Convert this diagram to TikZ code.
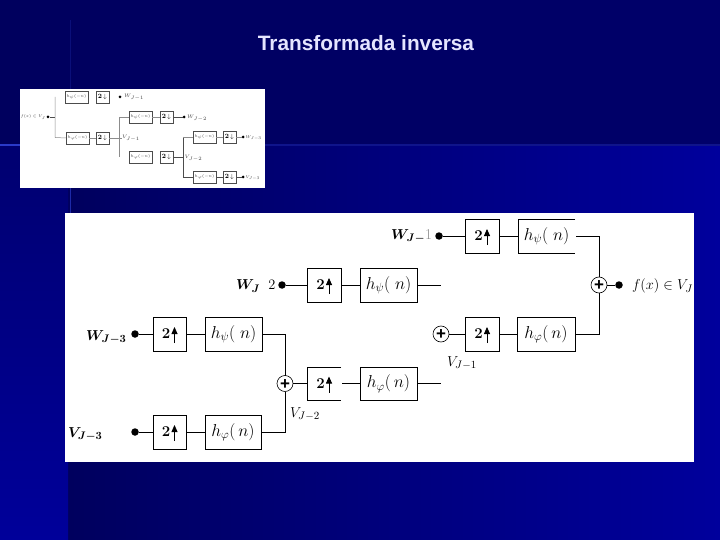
\documentclass[tikz,border=0pt]{standalone}
\usepackage{amsmath}
\usepackage{graphicx}
\usepackage{fontspec}
\setsansfont{Liberation Sans}
\usetikzlibrary{arrows.meta}
\definecolor{bgtop}{HTML}{00005E}
\definecolor{bgtopr}{HTML}{00006A}
\definecolor{bgdark}{HTML}{00005E}
\definecolor{bgstripa}{HTML}{000070}
\definecolor{bgstripb}{HTML}{00009A}
\definecolor{bgbright}{HTML}{00009C}
\definecolor{glow}{HTML}{2A3AC8}
\tikzset{
  x=1pt,y=-1pt,
  every node/.style={inner sep=0pt,outer sep=0pt},
  bigbox/.style={draw=black,line width=0.7pt,fill=white,anchor=north west,font=\fontsize{17}{17}\selectfont},
  openbox/.style={fill=white,anchor=north west,font=\fontsize{17}{17}\selectfont},
  wire/.style={draw=black,line width=0.7pt},
  bigdot/.style={circle,fill=black,minimum size=7.5pt},
  adder/.style={circle,draw=black,line width=0.6pt,fill=white,minimum size=16pt,font=\sffamily\bfseries\fontsize{17}{17}\selectfont},
  lab/.style={font=\fontsize{15}{15}\selectfont,text=black},
  upar/.style={line width=0.8pt,-{Triangle[length=7pt,width=6pt]}},
  smallbox/.style={draw=black!70,line width=0.5pt,fill=white,anchor=north west,font=\fontsize{6.5}{6.5}\selectfont},
  smallwire/.style={draw=black!45,line width=0.5pt},
  darkwire/.style={draw=black!70,line width=0.5pt},
  smalldot/.style={circle,fill=black,minimum size=3pt},
  smalllab/.style={font=\fontsize{5.5}{5.5}\selectfont,text=black!75},
}
\newcommand{\twotxt}{\hspace*{-7pt}{\fontsize{15}{15}\selectfont\textbf{2}}}
\newcommand{\plustxt}{\raisebox{-5.6pt}[0pt][0pt]{\makebox[0pt]{+}}}
\newcommand{\smtxt}[1]{\scalebox{0.8}{$#1$}}
\begin{document}
\begin{tikzpicture}
\useasboundingbox (0,0) rectangle (720,540);
% background
\shade[left color=bgtop,right color=bgtopr] (0,0) rectangle (720,145);
\shade[left color=bgdark,right color=bgbright] (68,145) rectangle (720,540);
\shade[top color=bgstripa,bottom color=bgstripb] (0,145) rectangle (68,540);
\fill[glow] (0,144.5) rectangle (20,146.5);
\fill[glow!35!bgtopr] (265,144.5) rectangle (720,146);
\fill[glow!25!bgtop] (69.5,20) rectangle (71,89);
\fill[glow!70!bgdark] (69.5,188) rectangle (71,213);
\node[text=white!90!blue,font=\sffamily\bfseries\fontsize{20.8}{21}\selectfont] (title) at (366,43) {Transformada inversa};
% panels
\fill[white] (20,89) rectangle (265,188);
\fill[white] (65,213) rectangle (694,462);

% ---- small diagram
\node[smalllab,anchor=east] (sf) at (45.5,117) {\smtxt{f(x)\in V_J}};
\node[smalldot] (sd) at (48,117) {};
\coordinate (sj1) at (55,117);
\coordinate (sj1t) at (55,97);
\coordinate (sj1b) at (55,137.5);
\node[smallbox,minimum width=23pt,minimum height=12pt] (sh1) at (65,91) {};
\node[smalllab] at (sh1.center) {\smtxt{h_\psi(-n)}};
\node[smallbox,minimum width=13pt,minimum height=12pt] (st1) at (96,91) {\textbf{2}\,$\downarrow$};
\node[smalldot] (so1) at (120,97) {};
\node[smalllab,anchor=west] (sl1) at (124,97) {$W_{J-1}$};
\node[smallbox,minimum width=23pt,minimum height=12pt] (sh2) at (66,132) {};
\node[smalllab] at (sh2.center) {\smtxt{h_\varphi(-n)}};
\node[smallbox,minimum width=13pt,minimum height=12pt] (st2) at (96,132) {\textbf{2}\,$\downarrow$};
\node[smalllab,anchor=west] (sl2) at (122,138) {$V_{J-1}$};
\coordinate (sj2) at (119,138);
\coordinate (sj2t) at (119,117);
\coordinate (sj2b) at (119,157);
\node[smallbox,minimum width=23pt,minimum height=12pt] (sh3) at (129,111) {};
\node[smalllab] at (sh3.center) {\smtxt{h_\psi(-n)}};
\node[smallbox,minimum width=13pt,minimum height=12pt] (st3) at (160,111) {\textbf{2}\,$\downarrow$};
\node[smalldot] (so3) at (184,117) {};
\node[smalllab,anchor=west] (sl3) at (187,118) {$W_{J-2}$};
\node[smallbox,minimum width=23pt,minimum height=12pt] (sh4) at (129,151) {};
\node[smalllab] at (sh4.center) {\smtxt{h_\varphi(-n)}};
\node[smallbox,minimum width=13pt,minimum height=12pt] (st4) at (160,151) {\textbf{2}\,$\downarrow$};
\node[smalllab,anchor=west] (sl4) at (184.5,158) {$V_{J-2}$};
\coordinate (sj3) at (183,157);
\coordinate (sj3t) at (183,137);
\coordinate (sj3b) at (183,177);
\node[smallbox,minimum width=23pt,minimum height=12pt] (sh5) at (193,131) {};
\node[smalllab] at (sh5.center) {\smtxt{h_\psi(-n)}};
\node[smallbox,minimum width=13pt,minimum height=12pt] (st5) at (223,131) {\textbf{2}\,$\downarrow$};
\node[smalldot] (so5) at (243,137) {};
\node[smalllab,anchor=west] (sl5) at (245.5,138) {\smtxt{W_{J-3}}};
\node[smallbox,minimum width=23pt,minimum height=12pt] (sh6) at (193,171) {};
\node[smalllab] at (sh6.center) {\smtxt{h_\varphi(-n)}};
\node[smallbox,minimum width=13pt,minimum height=12pt] (st6) at (223,171) {\textbf{2}\,$\downarrow$};
\node[smalldot] (so6) at (243,177) {};
\node[smalllab,anchor=west] (sl6) at (245.5,178) {\smtxt{V_{J-3}}};
\draw[darkwire] (sd) -- (sj1);
\draw[smallwire] (sj1t) -- (sj1b) -- (sh2.west);
\draw[smallwire] (sh2) -- (st2);
\draw[smallwire] (st2.east) -- (sl2.west);
\draw[smallwire] (sj2t) -- (sj2b);
\draw[smallwire] (sj2t) -- (sh3.west);
\draw[smallwire] (sh3) -- (st3);
\draw[darkwire] (st3) -- (so3);
\draw[darkwire] (st4.east) -- (sj3);
\draw[darkwire] (sj3t) -- (sj3b);
\draw[smallwire] (sj3t) -- (sh5.west);
\draw[darkwire] (sj3b) -- (sh6.west);
\draw[smallwire] (sh5) -- (st5);
\draw[darkwire] (sh6) -- (st6);
\draw[smallwire] (st5) -- (so5);
\draw[darkwire] (st6) -- (so6);

% ---- large diagram
\node[lab,anchor=west] (lw1) at (391,236) {$\boldsymbol{W_{J-}}$\textcolor{black!45}{1}};
\node[bigdot] (dw1) at (439,236) {};
\node[bigbox,minimum width=34pt,minimum height=34pt] (a1) at (465,219) {\twotxt};
\node[openbox,minimum width=57pt,minimum height=34pt] (b1) at (518,219) {$h_\psi(\;n)$};
\draw[wire] (b1.north east) -- (b1.north west) -- (b1.south west) -- (b1.south east);
\coordinate (c1) at (599,236);
\node[lab,anchor=west] (lw2) at (236,286) {$\boldsymbol{W_{J}}\;\;2$};
\node[bigdot] (dw2) at (282,285) {};
\node[bigbox,minimum width=34pt,minimum height=34pt] (a2) at (307,268) {\twotxt};
\node[bigbox,minimum width=57pt,minimum height=34pt] (b2) at (360,268) {$h_\psi(\;n)$};
\coordinate (e2) at (441,285);
\node[lab,anchor=west] (lw3) at (86,337) {$\boldsymbol{W_{J-3}}$};
\node[bigdot] (dw3) at (135,334) {};
\node[bigbox,minimum width=33pt,minimum height=34pt] (a3) at (153,317) {\twotxt};
\node[bigbox,minimum width=57pt,minimum height=34pt] (b3) at (205,317) {$h_\psi(\;n)$};
\node[lab,anchor=west] (lv3) at (68,434) {$\boldsymbol{V_{J-3}}$};
\node[bigdot] (dv3) at (135,432) {};
\node[bigbox,minimum width=33pt,minimum height=34pt] (a4) at (153,415) {\twotxt};
\node[bigbox,minimum width=56pt,minimum height=34pt] (b4) at (205,415) {$h_\varphi(\,n)$};
\node[adder] (s1) at (285,383.5) {\plustxt};
\node[openbox,minimum width=34pt,minimum height=33pt] (a5) at (307,367) {\twotxt};
\draw[wire] (a5.north east) -- (a5.north west) -- (a5.south west) -- (a5.south east);
\node[bigbox,minimum width=57pt,minimum height=33pt] (b5) at (360,367) {$h_\varphi(\,n)$};
\coordinate (e5) at (441,383.5);
\node[lab,anchor=west] (lv2) at (290,414) {$V_{J-2}$};
\node[adder] (s2) at (441,334) {\plustxt};
\node[bigbox,minimum width=34pt,minimum height=34pt] (a6) at (465,317) {\twotxt};
\node[bigbox,minimum width=58pt,minimum height=34pt] (b6) at (517,317) {$h_\varphi(\,n)$};
\node[lab,anchor=west] (lv1) at (447,363) {$V_{J-1}$};
\node[adder] (s3) at (599,285) {\plustxt};
\node[bigdot] (dout) at (619,285) {};
\node[lab,anchor=west] (lout) at (632,286) {$f(x)\in V_J$};
% wires
\draw[wire] (dw1) -- (a1);
\draw[wire] (a1) -- (b1);
\draw[wire] (b1.east) ++(1,0) -- (c1) -- (s3);
\draw[wire] (dw2) -- (a2);
\draw[wire] (a2) -- (b2);
\draw[wire] (b2) -- (e2);
\draw[wire] (dw3) -- (a3);
\draw[wire] (a3) -- (b3);
\draw[wire] (b3.east) -| (s1);
\draw[wire] (dv3) -- (a4);
\draw[wire] (a4) -- (b4);
\draw[wire] (b4.east) -| (s1);
\draw[wire] (s1) -- (a5.west);
\draw[wire] (a5.east) ++(1,0) -- (b5.west);
\draw[wire] (b5) -- (e5);
\draw[wire] (s2) -- (a6);
\draw[wire] (a6) -- (b6);
\draw[wire] (b6.east) -| (s3);
\draw[wire] (s3) -- (dout);
% up arrows
\foreach \n in {a1,a2,a3,a4,a5,a6}{
  \draw[upar] ([xshift=5pt,yshift=-9pt]\n.center) -- ([xshift=5pt,yshift=7pt]\n.center);
}
\end{tikzpicture}
\end{document}
